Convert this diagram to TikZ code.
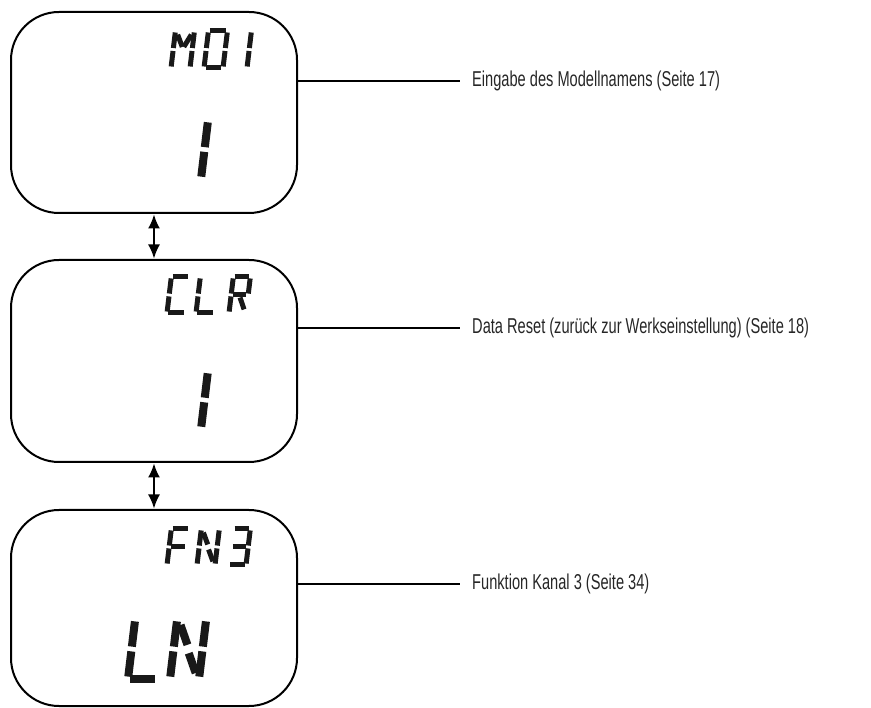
\documentclass[tikz,border=0pt]{standalone}
\usepackage{fontspec}
\newfontfamily\notefont{Liberation Sans}[FakeStretch=0.68]
\usetikzlibrary{arrows.meta}

% lcd segments in a 1 x 2 cell
\def\segA{0.08/2/0.92/2}
\def\segB{1/1.92/1/1.08}
\def\segC{1/0.92/1/0.08}
\def\segD{0.08/0/0.92/0}
\def\segE{0/0.08/0/0.92}
\def\segF{0/1.08/0/1.92}
\def\segG{0.1/1/0.9/1}
\def\segH{0.14/1.8/0.46/1.14}
\def\segI{0.86/1.8/0.54/1.14}
\def\segK{0.54/0.86/0.86/0.2}
% glyphs
\edef\glyM{\segF,\segE,\segB,\segC,\segH,\segI}
\edef\glyD{\segA,\segB,\segC,\segD,\segE,\segF}
\edef\glyOne{\segB,\segC}
\edef\glyC{\segA,\segF,\segE,\segD}
\edef\glyL{\segF,\segE,\segD}
\edef\glyR{\segA,\segF,\segE,\segB,\segG,\segK}
\edef\glyF{\segA,\segF,\segE,\segG}
\edef\glyN{\segF,\segE,\segB,\segC,\segH,\segK}
\edef\glyThree{\segA,\segB,\segC,\segD,\segG}

% x, y (lower left), width, height, line width, glyph
\newcommand\lcd[6]{%
  \begin{scope}[shift={(#1,-#2)},xslant=0.12,xscale=#3,yscale=#4/2]
    \foreach \xa/\ya/\xb/\yb in #6 {\draw[lcdseg,line width=#5] (\xa,\ya) -- (\xb,\yb);}
  \end{scope}}

\begin{document}
\begin{tikzpicture}[
  x=1pt,y=1pt,
  lcdbox/.style={draw,line width=2pt,rounded corners=48pt,minimum width=286pt,inner sep=0pt},
  lcdseg/.style={line cap=butt,black!90},
  updown/.style={{Latex[length=14pt,width=12pt]}-{Latex[length=14pt,width=12pt]},
    line width=1.8pt,shorten <=0.5pt,shorten >=0.5pt},
  leader/.style={line width=1.6pt},
  note/.style={anchor=west,inner xsep=12pt,inner ysep=2pt,
    font=\fontsize{21.5}{25}\notefont,text=black!85}
]
  \useasboundingbox (0,0) rectangle (871,-708);

  \node[lcdbox,minimum height=201pt] (mdbox) at (154,-112.5) {};
  \node[lcdbox,minimum height=202pt] (clrbox) at (154,-361) {};
  \node[lcdbox,minimum height=196pt] (fnbox) at (154,-608) {};

  \draw[updown] (mdbox.south) -- (clrbox.north);
  \draw[updown] (clrbox.south) -- (fnbox.north);

  \node[note] (mdnote) at (460,-81) {Eingabe des Modellnamens (Seite 17)};
  \node[note] (clrnote) at (460,-328) {Data Reset (zurück zur Werkseinstellung) (Seite 18)};
  \node[note] (fnnote) at (460,-584) {Funktion Kanal 3 (Seite 34)};

  \draw[leader] (mdbox.east |- mdnote.west) -- (mdnote.west);
  \draw[leader] (clrbox.east |- clrnote.west) -- (clrnote.west);
  \draw[leader] (fnbox.east |- fnnote.west) -- (fnnote.west);

  % MD1 / 1
  \lcd{171}{68}{19}{37}{5pt}{\glyM}
  \lcd{204}{68}{19}{37}{5pt}{\glyD}
  \lcd{229}{68}{18}{37}{5pt}{\glyOne}
  \lcd{172}{179}{29}{59}{8pt}{\glyOne}

  % CLR / 1
  \lcd{167}{313}{18}{36}{5pt}{\glyC}
  \lcd{196}{313}{18}{36}{5pt}{\glyL}
  \lcd{229}{313}{17}{36}{5pt}{\glyR}
  \lcd{172}{429}{29}{58}{8pt}{\glyOne}

  % FN3 / LN
  \lcd{167}{565}{18}{36}{5pt}{\glyF}
  \lcd{197}{565}{18}{36}{5pt}{\glyN}
  \lcd{229}{565}{17}{36}{5pt}{\glyThree}
  \lcd{128}{679}{29}{60}{8pt}{\glyL}
  \lcd{170}{679}{29}{60}{8pt}{\glyN}
\end{tikzpicture}
\end{document}
